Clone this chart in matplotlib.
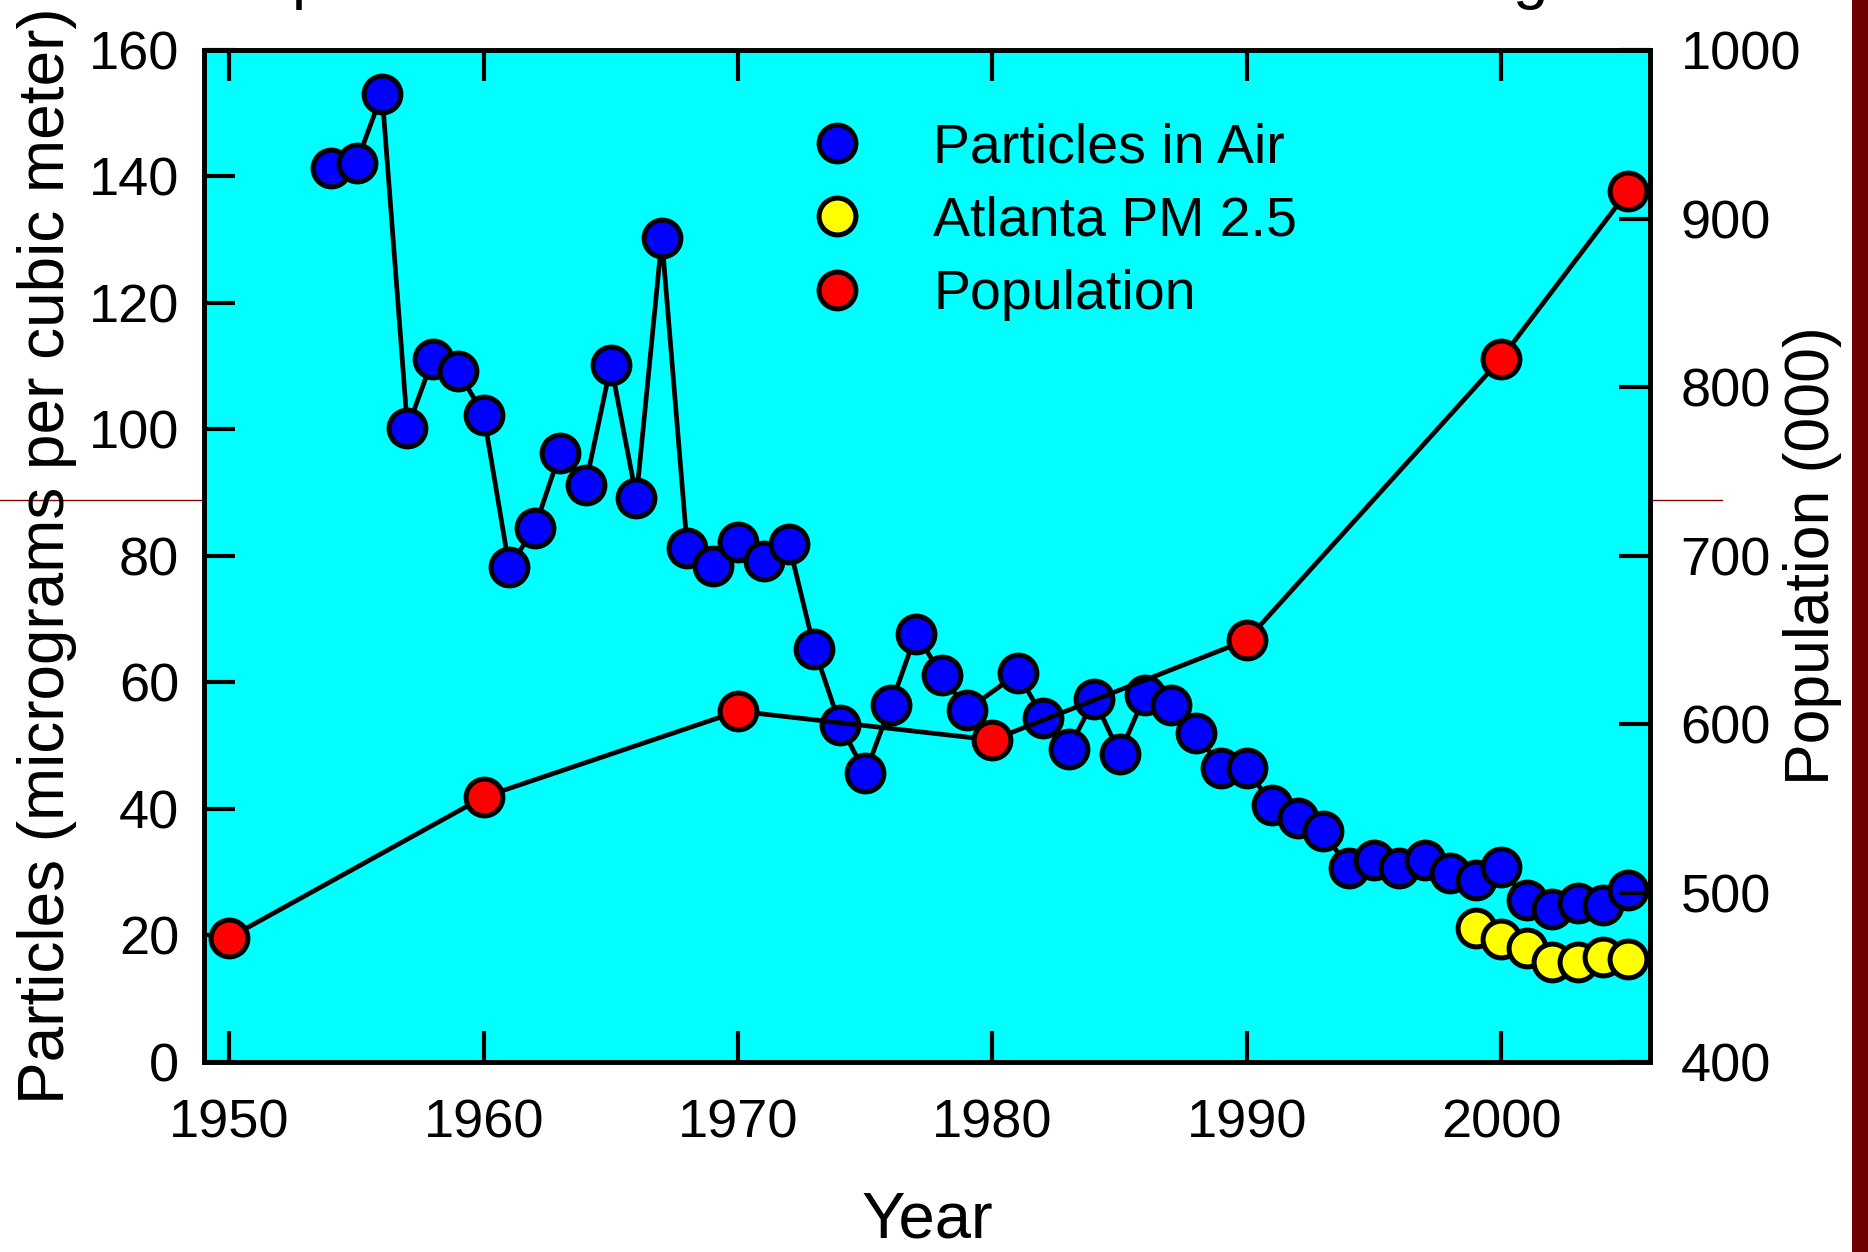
import matplotlib
matplotlib.use("Agg")
import matplotlib.pyplot as plt
from matplotlib.lines import Line2D
from matplotlib.patches import Rectangle

plt.rcParams['font.family'] = ['Liberation Sans', 'DejaVu Sans']

# ---- data ----
particle_years = [1954, 1955, 1956, 1957, 1958, 1959, 1960, 1961, 1962, 1963,
                  1964, 1965, 1966, 1967, 1968, 1969, 1970, 1971, 1972, 1973,
                  1974, 1975, 1976, 1977, 1978, 1979, 1981, 1982, 1983, 1984,
                  1985, 1986, 1987, 1988, 1989, 1990, 1991, 1992, 1993, 1994,
                  1995, 1996, 1997, 1998, 1999, 2000, 2001, 2002, 2003, 2004,
                  2005]
particle_values = [141.3, 142.2, 153.1, 100.2, 111.2, 109.2, 102.2, 78.2, 84.4, 96.3,
                   91.2, 110.2, 89.2, 130.2, 81.2, 78.3, 82.2, 79.2, 81.8, 65.2,
                   53.3, 45.6, 56.4, 67.7, 61.1, 55.6, 61.4, 54.3, 49.5, 57.3,
                   48.7, 58.0, 56.4, 51.9, 46.4, 46.4, 40.5, 38.5, 36.4, 30.6,
                   31.9, 30.6, 31.9, 29.8, 28.7, 30.8, 25.5, 24.2, 25.0, 24.8,
                   27.1]
pm25_years = [1999, 2000, 2001, 2002, 2003, 2004, 2005]
pm25_values = [21.1, 19.3, 17.9, 15.8, 15.8, 16.6, 16.2]
pop_years = [1950, 1960, 1970, 1980, 1990, 2000, 2005]
pop_values = [473.5, 556.9, 607.8, 590.7, 650.0, 817.0, 916.6]

legend_labels = ["Particles in Air", "Atlanta PM 2.5", "Population"]
x_ticks = [1950, 1960, 1970, 1980, 1990, 2000]
left_ticks = [0, 20, 40, 60, 80, 100, 120, 140, 160]
right_ticks = [400, 500, 600, 700, 800, 900, 1000]

# ---- style ----
W, H = 1868, 1252
fig = plt.figure(figsize=(W / 100, H / 100), dpi=100)
fig.patch.set_facecolor('white')

ax = fig.add_axes([204 / W, 1 - 1061.5 / H, (1650 - 204) / W, (1061.5 - 50) / H])
ax.set_facecolor('#00FFFF')
ax2 = ax.twinx()

ms, mew, lw = 26.5, 3.6, 3.4

ax.plot(particle_years, particle_values, color='black', lw=lw, marker='o',
        ms=ms, mfc='#0000FF', mec='black', mew=mew, zorder=3)
ax.plot(pm25_years, pm25_values, ls='none', marker='o',
        ms=ms, mfc='#FFFF00', mec='black', mew=mew, zorder=3)
ax2.plot(pop_years, pop_values, color='black', lw=lw, marker='o',
         ms=ms, mfc='#FF0000', mec='black', mew=mew, zorder=3)

ax.set_xlim(1949.0, 2005.85)
ax.set_ylim(0, 160)
ax2.set_ylim(400, 1000)
ax.set_xticks(x_ticks)
ax.set_yticks(left_ticks)
ax2.set_yticks(right_ticks)

tick_fs = 39
ax.tick_params(axis='x', direction='in', length=22, width=3, top=True,
               labelsize=tick_fs, pad=27)
ax.tick_params(axis='y', direction='in', length=22, width=3, right=False,
               labelsize=tick_fs, pad=18)
ax2.tick_params(axis='y', direction='in', length=22, width=3,
                labelsize=tick_fs, pad=22)
for a in (ax, ax2):
    for s in a.spines.values():
        s.set_linewidth(3.3)
        s.set_color('black')

ax.set_xlabel("Year", fontsize=47, labelpad=30)
ax.set_ylabel("Particles (micrograms per cubic meter)", fontsize=46)
ax.yaxis.set_label_coords(-0.088, 0.5)
ax2.set_ylabel("Population (000)", fontsize=45)
ax2.yaxis.set_label_coords(1.092, 0.5)

handles = [
    Line2D([], [], ls='none', marker='o', ms=ms, mfc='#0000FF', mec='black', mew=mew),
    Line2D([], [], ls='none', marker='o', ms=ms, mfc='#FFFF00', mec='black', mew=mew),
    Line2D([], [], ls='none', marker='o', ms=ms, mfc='#FF0000', mec='black', mew=mew),
]
leg = ax2.legend(handles, legend_labels, loc='upper left',
                 bbox_to_anchor=(0.4186, 0.928), frameon=False, fontsize=40,
                 borderpad=0, borderaxespad=0, handlelength=1.0,
                 handletextpad=1.23, labelspacing=0.38)

# decorative elements from the source slide
fig.add_artist(Line2D([0, 1722 / W], [1 - 500 / H, 1 - 500 / H],
                      transform=fig.transFigure, color='#8B0000', lw=1.0,
                      zorder=-1))
fig.add_artist(Rectangle((1852 / W, 0), 16 / W, 1, transform=fig.transFigure,
                         facecolor='#700000', edgecolor='none', zorder=5))
fig.text(292 / W, 1 + 3 / H, "p", fontsize=46, va='baseline', ha='left')
fig.text(1512 / W, 1 + 3 / H, "g", fontsize=46, va='baseline', ha='left')

fig.savefig("out.png", dpi=100, facecolor='white')
